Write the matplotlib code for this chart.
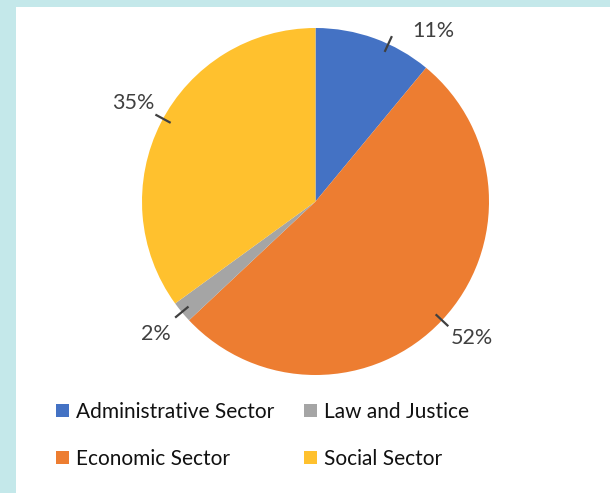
import numpy as np
import matplotlib
matplotlib.use("Agg")
import matplotlib.pyplot as plt
from matplotlib.patches import Patch

categories = ["Administrative Sector", "Economic Sector", "Law and Justice", "Social Sector"]
values = [11, 52, 2, 35]
labels = ["11%", "52%", "2%", "35%"]
colors = ["#4472C4", "#ED7D31", "#A5A5A5", "#FFC12E"]
label_angle_shift = [-15, 2, 0, -1.5]
line_angle_shift = [-5, 0, 0, -1.5]

plt.rcParams["font.family"] = ["Lato", "DejaVu Sans"]

W, H = 610, 493
fig = plt.figure(figsize=(W / 100, H / 100), dpi=100)
fig.patch.set_facecolor("#C4E8EA")
bg = fig.add_axes([16 / W, 0, 1 - 16 / W, 1 - 7 / H], zorder=-5)
bg.set_facecolor("white")
bg.set_xticks([])
bg.set_yticks([])
for s in bg.spines.values():
    s.set_visible(False)

cx, cy, r = 315.5, 201.5, 173.5
ax = fig.add_axes([(cx - r) / W, (H - cy - r) / H, 2 * r / W, 2 * r / H], zorder=1)
wedges, _ = ax.pie(values, colors=colors, startangle=90, counterclock=False,
                   wedgeprops=dict(linewidth=0))
ax.set_xlim(-1, 1)
ax.set_ylim(-1, 1)
ax.set_aspect("equal")
ax.axis("off")

total = sum(values)
cum = 0
for v, lab, sh, lsh in zip(values, labels, label_angle_shift, line_angle_shift):
    mid = 90 - 360 * (cum + v / 2) / total
    cum += v
    a = np.deg2rad(mid + lsh)
    ax.plot([0.95 * np.cos(a), 1.05 * np.cos(a)], [0.95 * np.sin(a), 1.05 * np.sin(a)],
            color="#404040", lw=1.6, clip_on=False, solid_capstyle="butt")
    b = np.deg2rad(mid + sh)
    ax.text(1.195 * np.cos(b), 1.195 * np.sin(b), lab, ha="center", va="center",
            fontsize=15.5, color="#404040")

handles = [Patch(facecolor=c, edgecolor="none") for c in colors]
leg = fig.legend(handles, categories, ncol=2, loc="upper left",
                 bbox_to_anchor=(56 / W, 1 - 402 / H), frameon=False,
                 borderpad=0, borderaxespad=0,
                 handlelength=0.6, handleheight=0.6,
                 handletextpad=0.35, columnspacing=1.45, labelspacing=1.3,
                 prop=dict(size=15))
for t in leg.get_texts():
    t.set_color("#111111")

fig.savefig("out.png", dpi=100, facecolor=fig.get_facecolor())
